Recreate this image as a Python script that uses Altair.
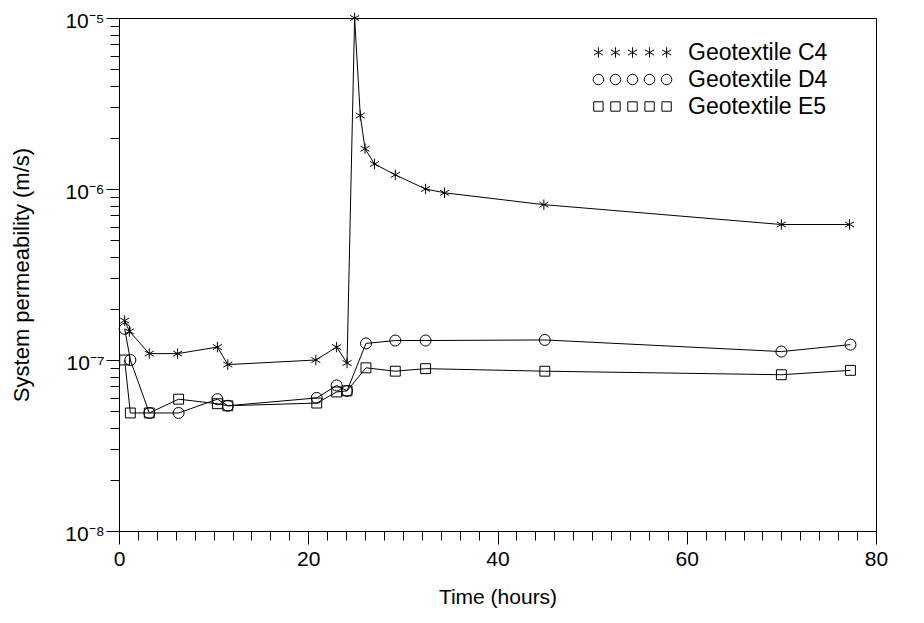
import altair as alt
import pandas as pd

# ---- data ----
series_names = ["Geotextile C4", "Geotextile D4", "Geotextile E5"]

c4_time = [0.6, 1.1, 3.2, 6.2, 10.4, 11.5, 20.8, 23.0, 24.1, 24.9, 25.5, 26.0, 27.0, 29.2, 32.4, 34.4, 44.9, 70.0, 77.2]
c4_perm = [1.70e-7, 1.47e-7, 1.09e-7, 1.09e-7, 1.19e-7, 9.4e-8, 1.0e-7, 1.19e-7, 9.6e-8, 1.0e-5,
           2.69e-6, 1.72e-6, 1.40e-6, 1.21e-6, 1.0e-6, 9.5e-7, 8.1e-7, 6.2e-7, 6.2e-7]

d4_time = [0.6, 1.2, 3.2, 6.3, 10.4, 11.5, 20.9, 23.0, 24.1, 26.1, 29.2, 32.4, 45.0, 70.0, 77.3]
d4_perm = [1.52e-7, 1.0e-7, 4.9e-8, 4.9e-8, 5.9e-8, 5.4e-8, 6.0e-8, 7.1e-8, 6.6e-8,
           1.25e-7, 1.30e-7, 1.30e-7, 1.31e-7, 1.12e-7, 1.23e-7]

e5_time = [0.6, 1.2, 3.2, 6.3, 10.4, 11.5, 20.9, 23.0, 24.1, 26.1, 29.2, 32.4, 45.0, 70.0, 77.3]
e5_perm = [1.0e-7, 4.9e-8, 4.9e-8, 5.9e-8, 5.55e-8, 5.4e-8, 5.6e-8, 6.5e-8, 6.6e-8,
           9.0e-8, 8.6e-8, 8.9e-8, 8.6e-8, 8.2e-8, 8.7e-8]

x_ticks = list(range(0, 82, 2))
y_ticks = [float(f"{m}e{e}") for e in (-8, -7, -6) for m in range(1, 10)] + [1e-5]

rows = []
for name, ts, ks in [(series_names[0], c4_time, c4_perm),
                     (series_names[1], d4_time, d4_perm),
                     (series_names[2], e5_time, e5_perm)]:
    for t, k in zip(ts, ks):
        rows.append({"series": name, "time": t, "perm": k})
df = pd.DataFrame(rows)

# ---- marker shapes (unit-square SVG paths) ----
def star(cx=0.0):
    return (f"M{cx},-0.95L{cx},0.95"
            f"M{cx-0.82},-0.47L{cx+0.82},0.47"
            f"M{cx-0.82},0.47L{cx+0.82},-0.47")

def circ(cx=0.0, r=1.0):
    return f"M{cx-r},0A{r},{r} 0 1,0 {cx+r},0A{r},{r} 0 1,0 {cx-r},0Z"

def sq(cx=0.0, h=0.9):
    return f"M{cx-h},{-h}L{cx+h},{-h}L{cx+h},{h}L{cx-h},{h}Z"

offs = [-6.2, -3.1, 0.0, 3.1, 6.2]
star5 = "".join(star(o) for o in offs)
circ5 = "".join(circ(o, 0.95) for o in offs)
sq5 = "".join(sq(o, 0.85) for o in offs)

major_x = "datum.value % 20 === 0"
decade = "indexof([1e-8, 1e-7, 1e-6, 1e-5], datum.value) >= 0"

x_enc = alt.X(
    "time:Q",
    scale=alt.Scale(domain=[0, 80], nice=False),
    title="Time (hours)",
    axis=alt.Axis(
        values=x_ticks,
        labelExpr=f"{major_x} ? datum.label : ''",
        tickSize={"condition": {"test": major_x, "value": 13}, "value": 9},
        labelPadding=4,
        labelFlush=False,
        labelOverlap=False,
        labelFontSize=21,
        titleFontSize=21,
        titlePadding=17,
        grid=False,
    ),
)
y_enc = alt.Y(
    "perm:Q",
    scale=alt.Scale(type="log", domain=[1e-8, 1e-5], nice=False),
    title="System permeability (m/s)",
    axis=alt.Axis(
        values=y_ticks,
        labelExpr=("datum.value == 1e-5 ? '10⁻⁵' : datum.value == 1e-6 ? '10⁻⁶' : "
                   "datum.value == 1e-7 ? '10⁻⁷' : datum.value == 1e-8 ? '10⁻⁸' : ''"),
        tickSize={"condition": {"test": decade, "value": 13}, "value": 9},
        labelPadding=2,
        labelOffset=3,
        labelOverlap=False,
        labelFlush=False,
        labelFontSize=21,
        titleFontSize=22,
        titlePadding=31,
        grid=False,
    ),
)

base = alt.Chart(df)

lines = base.mark_line(color="black", strokeWidth=1).encode(
    x=x_enc, y=y_enc, detail="series:N"
)

points = base.mark_point(filled=False, color="black", strokeWidth=1, size=121, opacity=1).encode(
    x=x_enc, y=y_enc,
    shape=alt.Shape("series:N",
                    scale=alt.Scale(domain=series_names, range=[star(), circ(), sq()]),
                    legend=None),
)

legend_layer = base.mark_point(filled=False, color="black", size=121, opacity=0).encode(
    x=x_enc, y=y_enc,
    shape=alt.Shape(
        "series:N",
        scale=alt.Scale(domain=series_names, range=[star5, circ5, sq5]),
        legend=alt.Legend(
            title=None,
            orient="none",
            legendX=502,
            legendY=23,
            padding=0,
            labelOffset=44,
            labelFontSize=23,
            labelFont="Liberation Sans",
            labelColor="black",
            rowPadding=3,
            symbolSize=121,
            symbolOpacity=1,
            symbolStrokeColor="black",
            symbolFillColor="transparent",
            symbolStrokeWidth=1,
        ),
    ),
)

chart = alt.layer(lines, points, legend_layer).resolve_scale(
    shape="independent"
).properties(
    width=757,
    height=513,
    autosize=alt.AutoSizeParams(type="none"),
    padding={"left": 111, "top": 10, "right": 40, "bottom": 84},
).configure_view(
    stroke="black", strokeWidth=1
).configure_axis(
    domainColor="black", tickColor="black", labelColor="black", titleColor="black",
    labelFont="Liberation Sans", titleFont="Liberation Sans",
    titleFontWeight="normal",
    domainWidth=1, tickWidth=1,
)

chart.save("out.html", embed_options={"renderer": "svg", "actions": False})
